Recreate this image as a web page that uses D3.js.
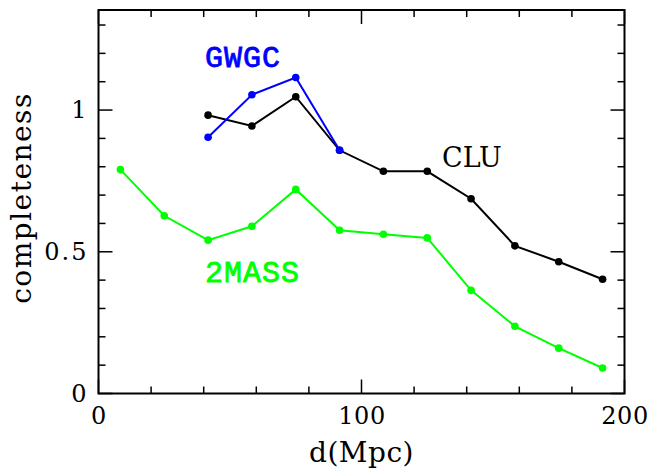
<!DOCTYPE html>
<html>
<head>
<meta charset="utf-8">
<script src="https://cdn.jsdelivr.net/npm/d3@7/dist/d3.min.js"></script>
<style>
  body { margin: 0; background: #fff; }
  svg { display: block; }
</style>
</head>
<body>
<svg id="chart" width="652" height="470"></svg>
<script>
'use strict';

// bin centres, d in Mpc
var distances = [8.33, 25, 41.67, 58.33, 75, 91.67, 108.33, 125, 141.67, 158.33, 175, 191.67];
var twoMass = [0.79, 0.627, 0.541, 0.59, 0.72, 0.576, 0.562, 0.549, 0.364, 0.237, 0.16, 0.09];
var clu = [null, null, 0.982, 0.944, 1.047, 0.858, 0.784, 0.784, 0.687, 0.521, 0.465, 0.403];
var gwgc = [null, null, 0.904, 1.054, 1.115, 0.858, null, null, null, null, null, null];

var xTicks = [0, 100, 200];
var yTicks = [0, 0.5, 1];

var serif = '"DejaVu Serif", serif',
    mono = '"Liberation Mono", "DejaVu Sans Mono", monospace';

var margin = {top: 10, right: 27.5, bottom: 76.5, left: 98.5},
    width = 652 - margin.left - margin.right,
    height = 470 - margin.top - margin.bottom;

var svg = d3.select('#chart');
var g = svg.append('g')
  .attr('transform', 'translate(' + margin.left + ',' + margin.top + ')');

var x = d3.scaleLinear().domain([0, 200]).range([0, width]);
var y = d3.scaleLinear().domain([0, 1.353]).range([height, 0]);

// ticks on all four sides, pointing inward
function tickAxes() {
  var minorX = d3.range(0, 201, 20),
      minorY = d3.range(0, 1.35, 0.1).map(function(v) { return +v.toFixed(1); });

  function isMajorX(v) { return v % 100 === 0; }
  function isMajorY(v) { return Math.abs(v * 2 - Math.round(v * 2)) < 1e-6; }

  var tk = g.append('g').attr('stroke', '#000').attr('stroke-width', 1.5);

  minorX.forEach(function(v) {
    var len = isMajorX(v) ? 14 : 7;
    tk.append('line').attr('x1', x(v)).attr('x2', x(v)).attr('y1', height).attr('y2', height - len);
    tk.append('line').attr('x1', x(v)).attr('x2', x(v)).attr('y1', 0).attr('y2', len);
  });
  minorY.forEach(function(v) {
    var len = isMajorY(v) ? 14 : 7;
    tk.append('line').attr('y1', y(v)).attr('y2', y(v)).attr('x1', 0).attr('x2', len);
    tk.append('line').attr('y1', y(v)).attr('y2', y(v)).attr('x1', width).attr('x2', width - len);
  });

  g.append('rect')
    .attr('width', width).attr('height', height)
    .attr('fill', 'none').attr('stroke', '#000').attr('stroke-width', 2);
}
tickAxes();

var xAxis = d3.axisBottom(x).tickValues(xTicks).tickSize(0).tickPadding(13)
  .tickFormat(d3.format('d'));
g.append('g')
  .attr('transform', 'translate(0,' + height + ')')
  .call(xAxis)
  .call(function(a) { a.select('.domain').remove(); })
  .selectAll('text')
    .style('font-family', serif)
    .style('font-size', '24px')
    .style('letter-spacing', '0.5px')
    .attr('fill', '#000');

var yAxis = d3.axisLeft(y).tickValues(yTicks).tickSize(0).tickPadding(10)
  .tickFormat(function(d) { return d === 0.5 ? '0.5' : d3.format('d')(d); });
g.append('g')
  .call(yAxis)
  .call(function(a) { a.select('.domain').remove(); })
  .selectAll('text')
    .style('font-family', serif)
    .style('font-size', '24px')
    .style('letter-spacing', '2px')
    .attr('fill', '#000');

svg.append('text')
  .attr('x', margin.left + x(100))
  .attr('y', 462)
  .attr('text-anchor', 'middle')
  .style('font-family', serif)
  .style('font-size', '28px')
  .style('letter-spacing', '0.5px')
  .text('d(Mpc)');

svg.append('text')
  .attr('transform', 'translate(31,198) rotate(-90)')
  .attr('text-anchor', 'middle')
  .style('font-family', serif)
  .style('font-size', '28px')
  .style('letter-spacing', '1.5px')
  .text('completeness');

var series = [
  {name: 'CLU', values: clu, color: '#000000'},
  {name: 'GWGC', values: gwgc, color: '#0000ff'},
  {name: '2MASS', values: twoMass, color: '#00ff00'}
];

var line = d3.line()
  .defined(function(d) { return d[1] !== null; })
  .x(function(d) { return x(d[0]); })
  .y(function(d) { return y(d[1]); });

series.forEach(function(s) {
  var pts = distances.map(function(d, i) { return [d, s.values[i]]; });
  g.append('path')
    .datum(pts)
    .attr('d', line)
    .attr('fill', 'none')
    .attr('stroke', s.color)
    .attr('stroke-width', 2);
  g.selectAll(null)
    .data(pts.filter(function(p) { return p[1] !== null; }))
    .enter().append('circle')
      .attr('cx', function(p) { return x(p[0]); })
      .attr('cy', function(p) { return y(p[1]); })
      .attr('r', 3.8)
      .attr('fill', s.color);
});

// series labels
function monoLabel(txt, xv, yv, color) {
  g.append('text')
    .attr('x', x(xv)).attr('y', y(yv))
    .style('font-family', mono)
    .style('font-size', '30px')
    .style('letter-spacing', '1px')
    .attr('fill', color)
    .attr('stroke', color)
    .attr('stroke-width', 0.8)
    .text(txt);
}
monoLabel('GWGC', 40.5, 1.152, '#0000ff');
monoLabel('2MASS', 40.5, 0.393, '#00ff00');

g.append('text')
  .attr('x', x(130.6)).attr('y', y(0.8))
  .style('font-family', serif)
  .style('font-size', '27px')
  .attr('fill', '#000')
  .text('CLU');
</script>
</body>
</html>
